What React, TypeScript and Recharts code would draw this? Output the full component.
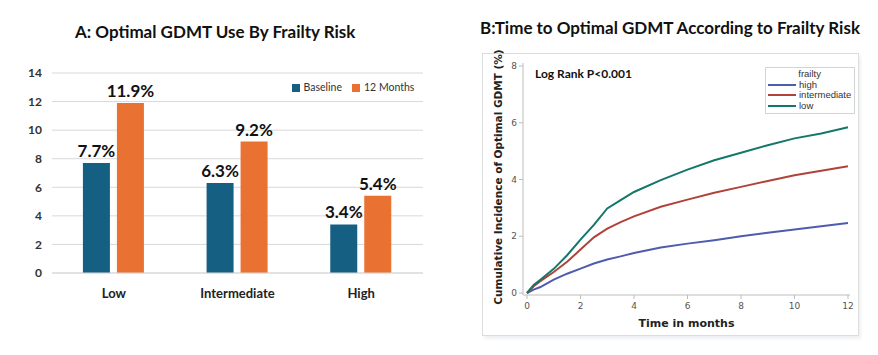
import React from 'react'
import {
  BarChart, Bar, XAxis, YAxis, CartesianGrid, Legend, LabelList,
  LineChart, Line,
} from 'recharts'

// Panel A: optimal GDMT use by frailty risk
const frailtyGroups = ['Low', 'Intermediate', 'High']
const baselinePct = [7.7, 6.3, 3.4]
const monthsPct = [11.9, 9.2, 5.4]
const barTicks = [0, 2, 4, 6, 8, 10, 12, 14]

// Panel B: cumulative incidence curves
const months = [0, 0.25, 0.5, 1, 1.5, 2, 2.5, 3, 3.5, 4, 5, 6, 7, 8, 9, 10, 11, 12]
const highCurve = [0, 0.12, 0.21, 0.47, 0.68, 0.86, 1.04, 1.18, 1.29, 1.41, 1.6, 1.74, 1.86, 2.0, 2.12, 2.24, 2.35, 2.47]
const intermediateCurve = [0, 0.24, 0.42, 0.74, 1.1, 1.53, 1.96, 2.27, 2.5, 2.7, 3.04, 3.29, 3.53, 3.74, 3.95, 4.15, 4.31, 4.47]
const lowCurve = [0, 0.28, 0.47, 0.85, 1.33, 1.88, 2.4, 2.98, 3.27, 3.56, 3.98, 4.35, 4.68, 4.94, 5.21, 5.45, 5.62, 5.84]
const monthTicks = [0, 2, 4, 6, 8, 10, 12]
const pctTicks = [0, 2, 4, 6, 8]

const barData = frailtyGroups.map((g, i) => ({ group: g, baseline: baselinePct[i], twelve: monthsPct[i] }))
const curveData = months.map((t, i) => ({ t, high: highCurve[i], intermediate: intermediateCurve[i], low: lowCurve[i] }))

const BLUE = '#156082'
const ORANGE = '#E97132'
const font = 'Lato, "Liberation Sans", Arial, sans-serif'
const sasFont = '"DejaVu Sans", Arial, sans-serif'

const FrailtyLegend = ({ payload }: any) => (
  <div style={{ border: '1px solid #d4d4d4', background: '#fff', padding: '1px 3px 2px 2px', fontFamily: '"Liberation Sans", Arial, sans-serif', fontSize: 9.5, color: '#333', lineHeight: '10.5px', whiteSpace: 'nowrap', textAlign: 'left' }}>
    <div style={{ textAlign: 'center' }}>frailty</div>
    {(payload || []).map((p: any) => (
      <div key={p.value} style={{ display: 'flex', alignItems: 'center' }}>
        <span style={{ display: 'inline-block', flexShrink: 0, width: 28, height: 2, background: p.color, marginRight: 3 }} />
        <span>{p.value}</span>
      </div>
    ))}
  </div>
)

const YTitle = ({ viewBox }: any) => {
  const cx = viewBox.x + 5
  const cy = viewBox.y + viewBox.height / 2 - 2
  return (
    <text x={cx} y={cy} transform={`rotate(-90 ${cx} ${cy})`} textAnchor="middle" dominantBaseline="central"
          fontFamily={sasFont} fontWeight="bold" fontSize={10.5} fill="#222">
      Cumulative Incidence of Optimal GDMT (%)
    </text>
  )
}

export default function App() {
  return (
    <div style={{ position: 'absolute', left: 0, top: 0, width: 878, height: 355, background: '#fff', overflow: 'hidden' }}>
      {/* Panel A */}
      <div style={{ position: 'absolute', left: 75, top: 21, fontFamily: font, fontWeight: 700, fontSize: 17, color: '#111' }}>
        A: Optimal GDMT Use By Frailty Risk
      </div>
      <div style={{ position: 'absolute', left: 0, top: 0 }}>
        <BarChart width={440} height={310} data={barData} barGap={7} barCategoryGap="25%"
                  margin={{ top: 73, right: 17, left: 12, bottom: 7 }}>
          <CartesianGrid vertical={false} stroke="#d9d9d9" />
          <XAxis dataKey="group" axisLine={{ stroke: '#d9d9d9' }} tickLine={false} tickMargin={10}
                 tick={{ fontSize: 13, fontWeight: 700, fill: '#222', fontFamily: font }} />
          <YAxis domain={[0, 14]} ticks={barTicks} width={40} axisLine={false} tickLine={false} tickMargin={4}
                 tick={{ fontSize: 12, fontWeight: 700, fill: '#333', fontFamily: font }} />
          <Legend layout="horizontal" verticalAlign="middle" iconType="square" iconSize={8} itemSorter="dataKey"
                  wrapperStyle={{ top: 81, left: 283, width: 150, fontSize: 10.5, fontFamily: font, whiteSpace: 'nowrap', textAlign: 'left' }}
                  formatter={(v: string) => <span style={{ color: '#333' }}>{v}</span>} />
          <Bar dataKey="baseline" name="Baseline" fill={BLUE} isAnimationActive={false}>
            <LabelList dataKey="baseline" position="top" offset={6} formatter={(v: any) => `${v}%`}
                       style={{ fontSize: 17, fontWeight: 700, fill: '#111', fontFamily: font }} />
          </Bar>
          <Bar dataKey="twelve" name="12 Months" fill={ORANGE} isAnimationActive={false}>
            <LabelList dataKey="twelve" position="top" offset={6} formatter={(v: any) => `${v}%`}
                       style={{ fontSize: 17, fontWeight: 700, fill: '#111', fontFamily: font }} />
          </Bar>
        </BarChart>
      </div>

      {/* Panel B */}
      <div style={{ position: 'absolute', left: 480, top: 17, fontFamily: font, fontWeight: 700, fontSize: 17, color: '#111' }}>
        B:Time to Optimal GDMT According to Frailty Risk
      </div>
      <div style={{ position: 'absolute', left: 482, top: 53, width: 375, height: 281, border: '1px solid #dcdcdc', boxShadow: '2px 3px 3px #eef0f3' }} />
      <div style={{ position: 'absolute', left: 535, top: 66, fontFamily: font, fontWeight: 700, fontSize: 12, color: '#111', zIndex: 2 }}>
        Log Rank P&lt;0.001
      </div>
      <div style={{ position: 'absolute', left: 470, top: 40 }}>
        <LineChart width={400} height={300} data={curveData} margin={{ top: 23, right: 20, left: 23, bottom: 10 }}>
          <XAxis dataKey="t" type="number" domain={[0, 12]} ticks={monthTicks} padding={{ left: 4, right: 2 }}
                 stroke="#bdbdbd" tickSize={4} tickMargin={4} height={35}
                 tick={{ fontSize: 9, fill: '#555', fontFamily: sasFont }}
                 label={{ value: 'Time in months', position: 'insideBottom', offset: 3, fontSize: 11, fontWeight: 700, fill: '#222', fontFamily: sasFont }} />
          <XAxis xAxisId="top" orientation="top" dataKey="t" type="number" domain={[0, 12]} height={0}
                 tick={false} tickLine={false} stroke="#bdbdbd" />
          <YAxis domain={[0, 8]} ticks={pctTicks} padding={{ top: 3, bottom: 2 }} width={30}
                 stroke="#bdbdbd" tickSize={4}
                 tick={{ fontSize: 9, fill: '#555', fontFamily: sasFont }}
                 label={<YTitle />} />
          <YAxis yAxisId="right" orientation="right" domain={[0, 8]} width={0}
                 tick={false} tickLine={false} stroke="#bdbdbd" />
          <Legend layout="horizontal" verticalAlign="middle" content={<FrailtyLegend />}
                  wrapperStyle={{ top: 27, left: 295, width: 'auto' }} />
          <Line dataKey="high" name="high" stroke="#4E5CAD" strokeWidth={2} dot={false} type="linear" isAnimationActive={false} />
          <Line dataKey="intermediate" name="intermediate" stroke="#B0423A" strokeWidth={2} dot={false} type="linear" isAnimationActive={false} />
          <Line dataKey="low" name="low" stroke="#13776A" strokeWidth={2} dot={false} type="linear" isAnimationActive={false} />
        </LineChart>
      </div>
    </div>
  )
}
